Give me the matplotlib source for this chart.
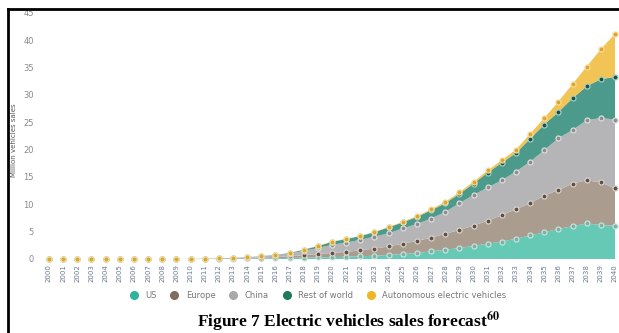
import matplotlib
matplotlib.use('Agg')
import matplotlib.pyplot as plt
import numpy as np
from matplotlib.lines import Line2D

# years on the x axis
years = list(range(2000, 2041))

# million vehicles per region (stacked layers)
us = [0] * 10 + [0.01, 0.02, 0.05, 0.08, 0.1, 0.12, 0.15,
                 0.2, 0.25, 0.3, 0.35, 0.4, 0.5, 0.6, 0.75, 0.9, 1.1, 1.4, 1.7,
                 2.0, 2.4, 2.8, 3.2, 3.7, 4.3, 4.9, 5.5, 6.0, 6.5, 6.2, 6.1]
europe = [0] * 10 + [0.01, 0.02, 0.04, 0.07, 0.1, 0.15, 0.2,
                     0.3, 0.45, 0.6, 0.75, 0.9, 1.1, 1.3, 1.55, 1.9, 2.2, 2.5, 2.9,
                     3.3, 3.7, 4.2, 4.8, 5.4, 5.9, 6.7, 7.1, 7.8, 7.9, 7.8, 6.8]
china = [0] * 10 + [0.0, 0.01, 0.02, 0.05, 0.1, 0.2, 0.3,
                    0.5, 0.8, 1.1, 1.5, 1.7, 1.9, 2.2, 2.4, 2.8, 3.1, 3.5, 4.0,
                    4.9, 5.6, 6.1, 6.4, 6.9, 7.6, 8.3, 9.5, 9.8, 11.0, 11.8, 12.6]
rest_world = [0] * 10 + [0.0, 0.01, 0.02, 0.02, 0.03, 0.05, 0.08,
                         0.1, 0.2, 0.35, 0.55, 0.65, 0.7, 0.8, 1.1, 1.1, 1.3, 1.5, 1.6,
                         1.7, 2.1, 2.7, 3.2, 3.4, 4.2, 4.7, 4.8, 5.8, 6.2, 7.1, 7.8]
autonomous = [0] * 10 + [0, 0, 0, 0, 0, 0, 0,
                         0.02, 0.03, 0.05, 0.05, 0.05, 0.05, 0.05, 0.05, 0.1, 0.15, 0.2, 0.25,
                         0.3, 0.35, 0.4, 0.5, 0.6, 0.9, 1.2, 1.9, 2.6, 3.6, 5.5, 7.9]

labels = ['US', 'Europe', 'China', 'Rest of world', 'Autonomous electric vehicles']
fills = ['#66c9b6', '#aa9d90', '#b5b5b8', '#4b9a8c', '#f2c456']
centers = ['#8fa8a2', '#5a5048', '#8e8e90', '#1d4f45', '#d9a53a']
rings = ['#b8e8dc', '#d8d0c6', '#dcdcdc', '#9fcfc4', '#f8dc90']
legend_cols = ['#2fb39a', '#7d6e60', '#a9a9a9', '#1f7a5e', '#f0b323']

layers = [us, europe, china, rest_world, autonomous]

plt.rcParams['mathtext.fontset'] = 'stix'

fig = plt.figure(figsize=(6.19, 3.33), dpi=100)
ax = fig.add_axes([49 / 619, 1 - 259 / 333, 566 / 619, 246 / 333])

ax.stackplot(years, *layers, colors=fills, linewidth=0)
tops = np.cumsum(np.array(layers), axis=0)
for i in range(len(layers)):
    ax.plot(years, tops[i], 'o', ms=3.6, mfc=centers[i], mec=rings[i],
            mew=0.9, clip_on=False, zorder=3)

ax.set_xlim(2000, 2040)
ax.set_ylim(0, 45)
ax.set_yticks(range(0, 46, 5))
ax.set_xticks(years)
ax.set_xticklabels([str(y) for y in years], rotation=90, fontsize=5,
                   color='#6a7890')
ax.tick_params(axis='y', length=0, pad=11, labelsize=6, labelcolor='#8a8a8a')
ax.tick_params(axis='x', length=0, pad=4)
for s in ax.spines.values():
    s.set_visible(False)

fig.text(14 / 619, 1 - 140 / 333, 'Million vehicles sales', rotation=90,
         ha='center', va='center', fontsize=5, color='#555555')

handles = [Line2D([], [], ls='none', marker='o', ms=5.5, mfc=c, mec=c)
           for c in legend_cols]
fig.legend(handles, labels, loc='center', bbox_to_anchor=(316 / 619, 1 - 295 / 333),
           ncol=5, frameon=False, fontsize=6, handletextpad=0.4,
           columnspacing=1.1, labelcolor='#777777')

fig.text(349 / 619, 1 - 322 / 333,
         r'Figure 7 Electric vehicles sales forecast$^{\mathbf{60}}$',
         ha='center', va='center', fontsize=12.5, fontweight='bold',
         family='Liberation Serif')

# border of the scanned figure
fig.add_artist(Line2D([8 / 619, 8 / 619], [0, 1 - 9 / 333], color='black', lw=2))
fig.add_artist(Line2D([8 / 619, 1], [1 - 9 / 333, 1 - 9 / 333], color='black', lw=2))

fig.savefig('out.png', dpi=100)
